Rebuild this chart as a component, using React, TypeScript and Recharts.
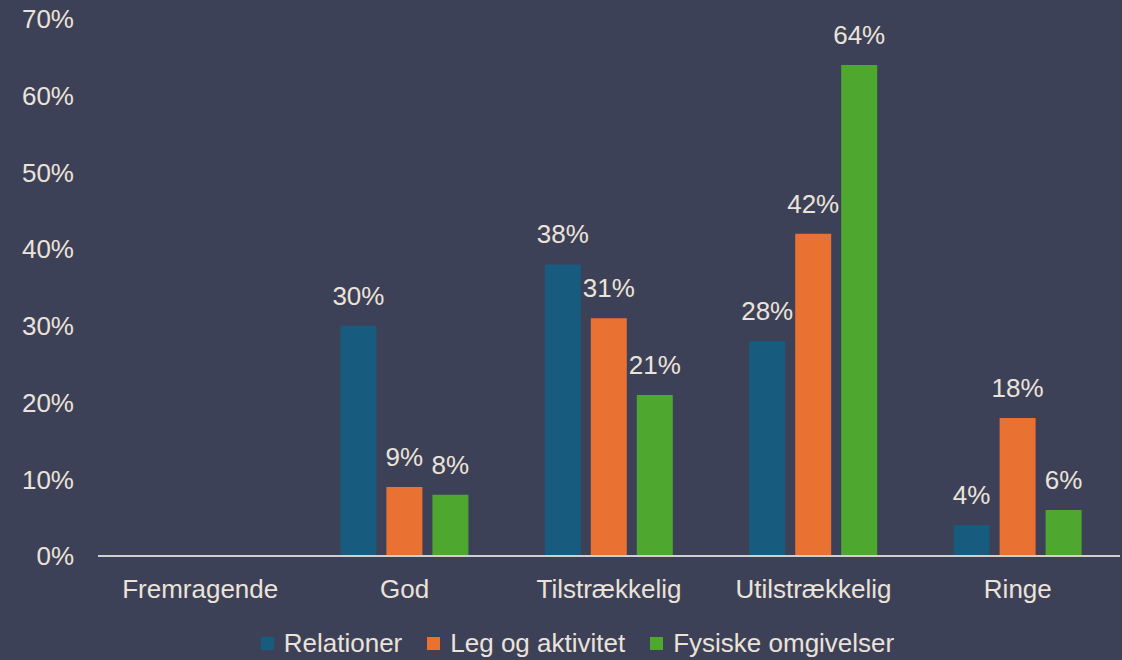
import { BarChart, Bar, XAxis, YAxis, Legend, LabelList } from 'recharts';

const categories = ['Fremragende', 'God', 'Tilstrækkelig', 'Utilstrækkelig', 'Ringe'];
const relationer = [0, 30, 38, 28, 4];
const legOgAktivitet = [0, 9, 31, 42, 18];
const fysiskeOmgivelser = [0, 8, 21, 64, 6];
const yTicks = [0, 10, 20, 30, 40, 50, 60, 70];

const series = [
  { key: 'relationer', name: 'Relationer', color: '#175b7e' },
  { key: 'leg', name: 'Leg og aktivitet', color: '#e97132' },
  { key: 'fysiske', name: 'Fysiske omgivelser', color: '#4ea72e' },
];

const data = categories.map((category, i) => ({
  category,
  relationer: relationer[i],
  leg: legOgAktivitet[i],
  fysiske: fysiskeOmgivelser[i],
}));

const BG = '#3d4157';
const TEXT = '#ebe3da';
const FONT = '"Liberation Sans", Arial, sans-serif';

const pct = (v: any) => (v ? `${v}%` : '');

function ChartLegend() {
  return (
    <div
      style={{
        height: 34,
        display: 'flex',
        justifyContent: 'center',
        alignItems: 'center',
        paddingLeft: 60,
        fontFamily: FONT,
        fontSize: 26,
        color: TEXT,
      }}
    >
      {series.map((s) => (
        <div key={s.key} style={{ display: 'flex', alignItems: 'center', marginRight: 25 }}>
          <span style={{ width: 13, height: 13, background: s.color, marginRight: 10, display: 'inline-block' }} />
          <span>{s.name}</span>
        </div>
      ))}
    </div>
  );
}

export default function App() {
  return (
    <div style={{ position: 'absolute', left: 0, top: 0, width: 1122, height: 660, background: BG }}>
      <BarChart
        width={1122}
        height={660}
        data={data}
        margin={{ top: 19, right: 2, left: 0, bottom: 0 }}
        barSize={36}
        barGap={10}
      >
        <XAxis
          dataKey="category"
          height={70}
          axisLine={{ stroke: '#d0d0d0', strokeWidth: 2 }}
          tickLine={false}
          tickSize={0}
          tickMargin={24}
          tick={{ fill: TEXT, fontSize: 26, fontFamily: FONT }}
          interval={0}
        />
        <YAxis
          width={98}
          domain={[0, 70]}
          ticks={yTicks}
          tickFormatter={(v) => `${v}%`}
          axisLine={false}
          tickLine={false}
          tickSize={0}
          tickMargin={24}
          tick={{ fill: TEXT, fontSize: 26, fontFamily: FONT }}
        />
        <Legend verticalAlign="bottom" content={<ChartLegend />} />
        {series.map((s) => (
          <Bar key={s.key} dataKey={s.key} name={s.name} fill={s.color} isAnimationActive={false}>
            <LabelList
              dataKey={s.key}
              position="top"
              offset={21}
              formatter={pct}
              style={{ fill: TEXT, fontSize: 26, fontFamily: FONT }}
            />
          </Bar>
        ))}
      </BarChart>
    </div>
  );
}
